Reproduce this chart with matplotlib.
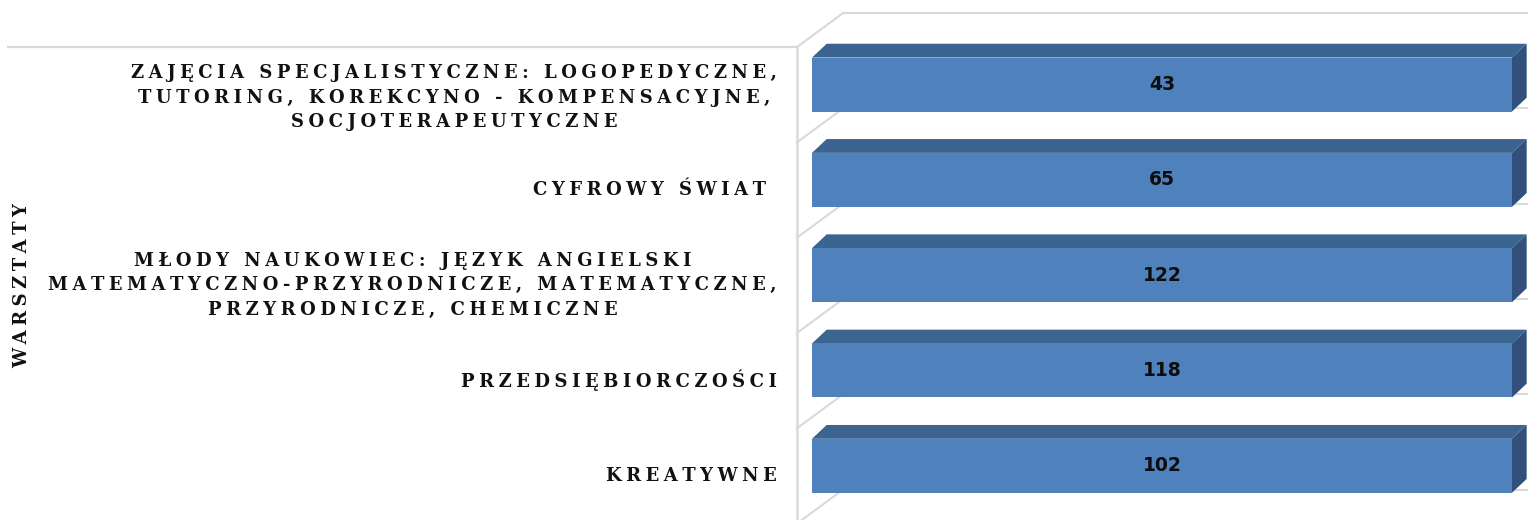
import matplotlib.pyplot as plt
from matplotlib.patches import Polygon

# Kategorie warsztatów (od góry) z podziałem na wiersze
kategorie = [
    "ZAJĘCIA SPECJALISTYCZNE: LOGOPEDYCZNE,\nTUTORING, KOREKCYNO - KOMPENSACYJNE,\nSOCJOTERAPEUTYCZNE",
    "CYFROWY ŚWIAT ",
    "MŁODY NAUKOWIEC: JĘZYK ANGIELSKI\nMATEMATYCZNO-PRZYRODNICZE, MATEMATYCZNE,\nPRZYRODNICZE, CHEMICZNE",
    "PRZEDSIĘBIORCZOŚCI",
    "KREATYWNE",
]
# Liczba uczestników w każdej kategorii
wartosci = [43, 65, 122, 118, 102]
tytul_osi = "WARSZTATY"

# Wykres 100% skumulowany: jedna seria, więc każdy słupek to cały stos
serie = [wartosci]
sumy = [sum(s[i] for s in serie) for i in range(len(wartosci))]
udzialy = [w / s for w, s in zip(wartosci, sumy)]

KOLOR_PRZOD = "#4f81bd"
KOLOR_GORA = "#3c6491"
KOLOR_BOK = "#31507b"
KOLOR_SIATKA = "#d9d9d9"

# Przesunięcia "głębi" 3D w jednostkach danych
GLEBIA_X, GLEBIA_Y = 0.021, 0.145
SCIANA_X_PRZOD, SCIANA_X_TYL = -0.0214, 0.0443
SCIANA_DY = 0.356
GRUBOSC = 0.566


def rozstaw(tekst):
    # szeroki odstęp między literami
    return "\n".join("\u2005".join(linia) for linia in tekst.split("\n"))


fig = plt.figure(figsize=(15.28, 5.2), dpi=100)
ax = fig.add_axes([0, 0, 1, 1])
ax.set_xlim(-1.16, 1.0229)
ax.set_ylim(4.569, -0.887)
ax.axis("off")

n = len(kategorie)
granice_przod = [k - 0.5 + 0.1065 for k in range(n + 1)]

# ściana boczna i linie siatki
ax.plot([-1.149, SCIANA_X_PRZOD], [granice_przod[0]] * 2, color=KOLOR_SIATKA, lw=1.6, zorder=1)
ax.plot([SCIANA_X_PRZOD, SCIANA_X_PRZOD], [granice_przod[0], 4.7], color=KOLOR_SIATKA, lw=1.8, zorder=1)
for g in granice_przod:
    tyl = g - SCIANA_DY
    ax.plot([SCIANA_X_PRZOD, SCIANA_X_TYL], [g, tyl], color=KOLOR_SIATKA, lw=1.5, zorder=1)
    ax.plot([SCIANA_X_TYL, 1.1], [tyl, tyl], color=KOLOR_SIATKA, lw=1.5, zorder=1)

# słupki 3D
for i, u in enumerate(udzialy):
    gora, dol = i - GRUBOSC / 2, i + GRUBOSC / 2
    ax.add_patch(Polygon([(0, gora), (u, gora), (u + GLEBIA_X, gora - GLEBIA_Y), (GLEBIA_X, gora - GLEBIA_Y)],
                         closed=True, facecolor=KOLOR_GORA, edgecolor="none", zorder=2))
    ax.add_patch(Polygon([(u, gora), (u, dol), (u + GLEBIA_X, dol - GLEBIA_Y), (u + GLEBIA_X, gora - GLEBIA_Y)],
                         closed=True, facecolor=KOLOR_BOK, edgecolor="none", zorder=2))
    ax.barh(i, u, height=GRUBOSC, left=0, color=KOLOR_PRZOD, zorder=3)
    ax.text(u / 2, i, str(wartosci[i]), ha="center", va="center", fontsize=13.5,
            fontweight="bold", family="DejaVu Sans", color="#0d0d0d", zorder=4)

# etykiety kategorii
for i, nazwa in enumerate(kategorie):
    przesuniecie = 0.03 if i == 0 else 0.0
    ax.text(-0.05, i + 0.1065 + przesuniecie, rozstaw(nazwa), ha="right", va="center",
            multialignment="center", fontsize=13, fontweight="bold", family="DejaVu Serif",
            color="#111111", linespacing=1.45)

ax.text(-1.1286, 2.11, rozstaw(tytul_osi), rotation=90, ha="center", va="center",
        fontsize=13, fontweight="bold", family="DejaVu Serif", color="#111111")

fig.savefig("out.png", dpi=100)
